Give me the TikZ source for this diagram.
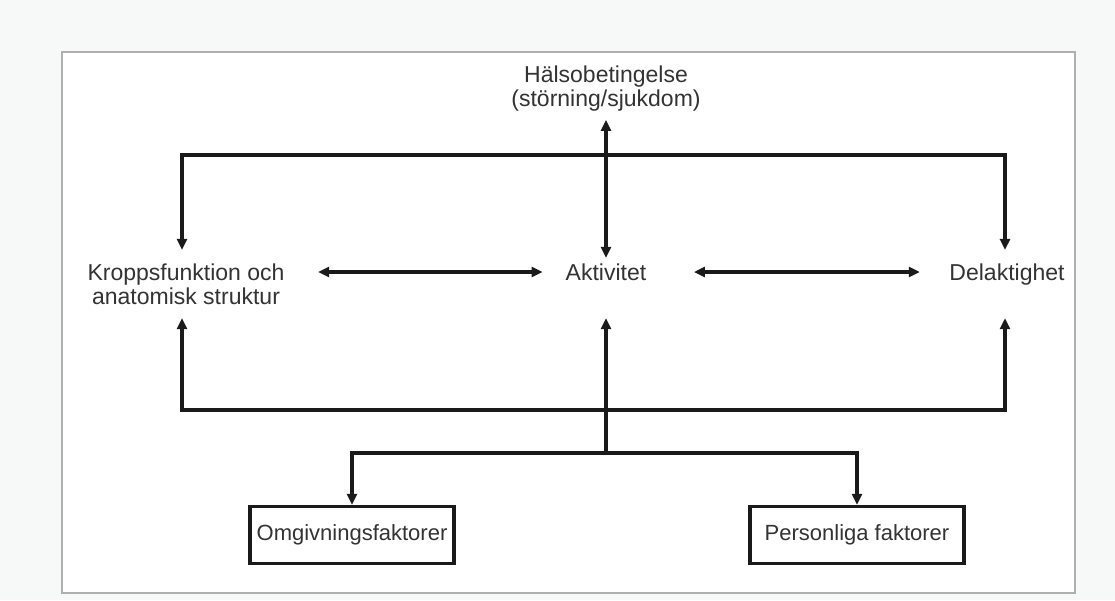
\documentclass[tikz,border=0pt]{standalone}
\usepackage{fontspec}
\setmainfont{Liberation Sans}
\usetikzlibrary{arrows.meta}
\definecolor{txt}{HTML}{333333}
\definecolor{ln}{HTML}{1A1A1A}
\definecolor{frm}{HTML}{AFAFAF}
\definecolor{bg}{HTML}{F7F9F9}
\begin{document}
\begin{tikzpicture}[x=1pt,y=-1pt,
  lbl/.style={font=\fontsize{23}{24}\selectfont, text=txt, inner sep=0pt, align=center},
  onel/.style={lbl, text height=16.8pt, text depth=0pt},
  factbox/.style={font=\fontsize{22}{24}\selectfont, text=txt, draw=ln, line width=3.4pt, inner sep=0pt, minimum height=57pt},
  conn/.style={draw=ln, line width=3.1pt},
  tipend/.style={-{Triangle[length=11pt,width=10pt]}},
  tipboth/.style={{Triangle[length=11pt,width=10pt]}-{Triangle[length=11pt,width=10pt]}}]
\fill[bg] (0,0) rectangle (1115,600);
\useasboundingbox (0,0) rectangle (1115,600);
\draw[frm, line width=1.6pt, fill=white] (62,52) rectangle (1075,593);

\node[lbl] (halso) at (606,89) {Hälsobetingelse\\(störning/sjukdom)};
\node[lbl] (kropp) at (186,284) {Kroppsfunktion och\\anatomisk struktur};
\node[onel] (akt) at (606,272) {Aktivitet};
\node[onel] (del) at (1007,272) {Delaktighet};
\node[factbox, minimum width=204pt] (omg) at (352,535) {Omgivningsfaktorer};
\node[factbox, minimum width=214pt] (pers) at (857,535) {Personliga faktorer};

\coordinate (tl) at (182,155);
\coordinate (tr) at (1005,155);
\coordinate (bl) at (182,410);
\coordinate (br) at (1005,410);
\coordinate (bm) at (606,410);
\coordinate (sm) at (606,453);
\coordinate (sl) at (352,453);
\coordinate (sr) at (857,453);

% top distribution
\draw[conn, tipboth, shorten <=13.5pt, shorten >=13.5pt]
  (tl |- kropp.north) -- (tl) -- (tr) -- (tr |- del.north);
\draw[conn, tipboth, shorten <=8pt, shorten >=5.6pt] (halso.south) -- (akt.north);

% horizontal arrows
\draw[conn, tipboth, shorten <=33.5pt, shorten >=23pt] (kropp.east |- akt) -- (akt.west);
\draw[conn, tipboth, shorten <=47.5pt, shorten >=29.5pt] (akt.east) -- (del.west);

% bottom collection
\draw[conn, tipend, shorten >=13.5pt] (bm) -- (bl) -- (tl |- kropp.south);
\draw[conn, tipend, shorten >=37.6pt] (bm) -- (br) -- (tr |- del.south);
\draw[conn, tipend, shorten >=37.6pt] (sm) -- (akt.south);
\draw[conn, tipend] (sm) -- (sl) -- (omg.north);
\draw[conn, tipend] (sm) -- (sr) -- (pers.north);
\end{tikzpicture}
\end{document}
